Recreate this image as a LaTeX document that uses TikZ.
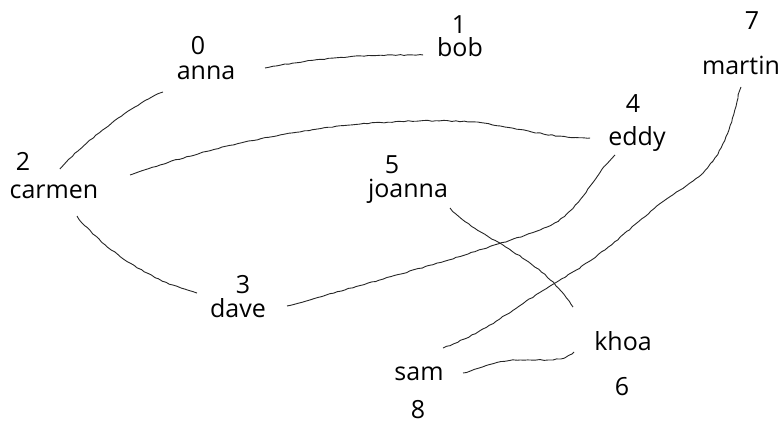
\documentclass[tikz,border=0pt]{standalone}
\usepackage{fontspec}
\setmainfont{Open Sans}
\usetikzlibrary{decorations.pathmorphing}

\begin{document}
\begin{tikzpicture}[x=1pt, y=-1pt,
		person/.style={anchor=base, inner sep=0pt, font=\fontsize{25}{30}\selectfont},
		num/.style={anchor=center, inner sep=0pt, font=\fontsize{25}{30}\selectfont},
		edge/.style={line width=0.9pt, black!85, decorate, decoration={random steps, segment length=4pt, amplitude=0.5pt}}]
			\useasboundingbox (0, 0) rectangle (783, 425);

			\draw (198, 46) 	node[num] 		(n0) 		{0};
			\draw (206, 80) 	node[person] 	(anna) 		{anna};
			\draw (459, 25) 	node[num] 		(n1) 		{1};
			\draw (460, 57) 	node[person] 	(bob) 		{bob};
			\draw (23, 161) 	node[num] 		(n2) 		{2};
			\draw (54, 198) 	node[person] 	(carmen) 	{carmen};
			\draw (243, 285) 	node[num] 		(n3) 		{3};
			\draw (238, 317) 	node[person] 	(dave) 		{dave};
			\draw (633, 104) 	node[num] 		(n4) 		{4};
			\draw (637, 145) 	node[person] 	(eddy) 		{eddy};
			\draw (392, 165) 	node[num] 		(n5) 		{5};
			\draw (408, 197) 	node[person] 	(joanna) 	{joanna};
			\draw (623, 350) 	node[person] 	(khoa) 		{khoa};
			\draw (622, 387) 	node[num] 		(n6) 		{6};
			\draw (752, 21) 	node[num] 		(n7) 		{7};
			\draw (741, 75) 	node[person] 	(martin) 	{martin};
			\draw (419, 380) 	node[person] 	(sam) 		{sam};
			\draw (418, 410) 	node[num] 		(n8) 		{8};

			% loose ends of the hand drawn lines
			\coordinate (anna_r) 	at (265, 68);
			\coordinate (anna_l) 	at (163, 92);
			\coordinate (bob_l) 	at (423, 55);
			\coordinate (carmen_t) 	at (60, 169);
			\coordinate (carmen_r) 	at (130, 175);
			\coordinate (carmen_b) 	at (77, 216);
			\coordinate (dave_l) 	at (197, 293);
			\coordinate (dave_r) 	at (287, 306);
			\coordinate (eddy_l) 	at (590, 138);
			\coordinate (eddy_b) 	at (615, 155);
			\coordinate (joanna_b) 	at (450, 208);
			\coordinate (khoa_t) 	at (573, 307);
			\coordinate (khoa_l) 	at (574, 352);
			\coordinate (martin_b) 	at (741, 87);
			\coordinate (sam_t) 	at (443, 348);
			\coordinate (sam_r) 	at (463, 373);

			\draw[edge] (anna_r) .. controls (320, 58) and (350, 55) .. (bob_l);
			\draw[edge] (anna_l) .. controls (140, 100) and (85, 140) .. (carmen_t);
			\draw[edge] (carmen_r) .. controls (230, 140) and (350, 115) .. (477, 122) .. controls (530, 130) and (550, 138) .. (eddy_l);
			\draw[edge] (carmen_b) .. controls (95, 240) and (140, 278) .. (dave_l);
			\draw[edge] (dave_r) .. controls (380, 280) and (470, 255) .. (540, 230) .. controls (580, 215) and (585, 185) .. (eddy_b);
			\draw[edge] (joanna_b) .. controls (480, 240) and (540, 255) .. (khoa_t);
			\draw[edge] (martin_b) .. controls (730, 120) and (730, 160) .. (680, 190) .. controls (640, 215) and (620, 245) .. (560, 280) .. controls (510, 310) and (490, 330) .. (sam_t);
			\draw[edge] (sam_r) .. controls (490, 366) and (495, 360) .. (520, 360) -- (553, 360) .. controls (565, 358) .. (khoa_l);
		\end{tikzpicture}
\end{document}
